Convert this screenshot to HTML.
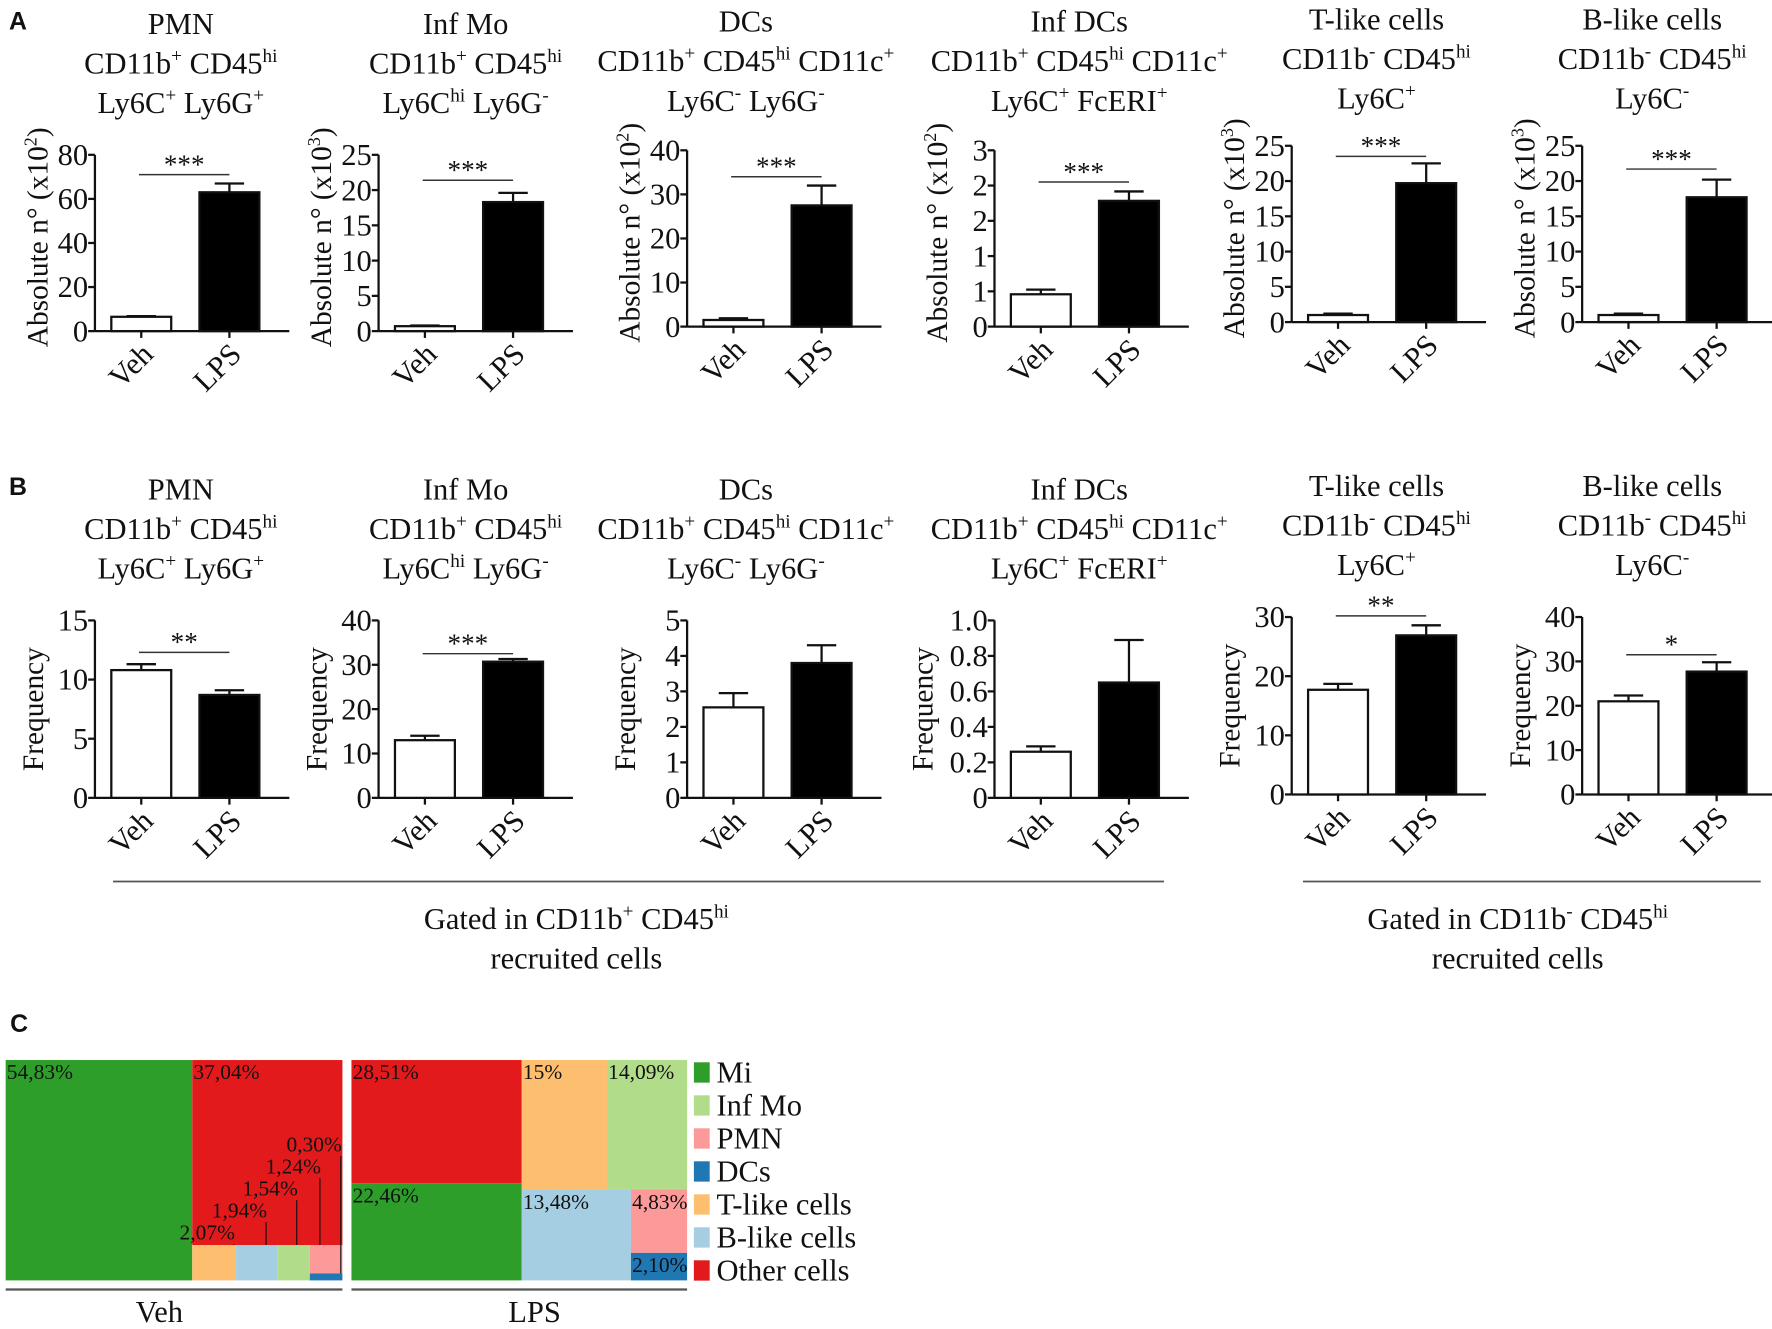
<!DOCTYPE html>
<html><head><meta charset="utf-8"><style>
html,body{margin:0;padding:0;background:#fff;}
svg{display:block;}
svg text{font-family:"Liberation Serif","Times New Roman",serif !important;fill:#111;}
svg text.lab{font-family:"Liberation Sans",Arial,sans-serif !important;font-weight:bold;}
</style></head><body>
<svg id="fig" width="1772" height="1329" viewBox="0 0 1568 1176" xmlns="http://www.w3.org/2000/svg" font-family="Liberation Serif, serif">
<text class="lab" x="8" y="26" font-size="22">A</text>
<text class="lab" x="8" y="438" font-size="22">B</text>
<text class="lab" x="9" y="913" font-size="22">C</text>
</svg>
<script>
// ---------- data ----------
const groups = ["Veh", "LPS"];
const titlesA = [
 ["PMN","CD11b^{+} CD45^{hi}","Ly6C^{+} Ly6G^{+}"],
 ["Inf Mo","CD11b^{+} CD45^{hi}","Ly6C^{hi} Ly6G^{-}"],
 ["DCs","CD11b^{+} CD45^{hi} CD11c^{+}","Ly6C^{-} Ly6G^{-}"],
 ["Inf DCs","CD11b^{+} CD45^{hi} CD11c^{+}","Ly6C^{+} FcERI^{+}"],
 ["T-like cells","CD11b^{-} CD45^{hi}","Ly6C^{+}"],
 ["B-like cells","CD11b^{-} CD45^{hi}","Ly6C^{-}"]
];
const yTitlesA = ["Absolute n° (x10^{2})","Absolute n° (x10^{3})","Absolute n° (x10^{2})","Absolute n° (x10^{2})","Absolute n° (x10^{3})","Absolute n° (x10^{3})"];
const meansA = [[6.5,63],[0.7,18.3],[1.5,27.5],[0.55,2.14],[1,19.7],[1,17.7]];
const errsA  = [[6.8,67],[0.8,19.6],[1.9,32],[0.63,2.3],[1.2,22.5],[1.2,20.2]];
const maxA   = [80,25,40,3,25,25];
const ticksA = [[0,20,40,60,80],[0,5,10,15,20,25],[0,10,20,30,40],[0,0.6,1.2,1.8,2.4,3],[0,5,10,15,20,25],[0,5,10,15,20,25]];
const tickLabelsA = [["0","20","40","60","80"],["0","5","10","15","20","25"],["0","10","20","30","40"],["0","1","1","2","2","3"],["0","5","10","15","20","25"],["0","5","10","15","20","25"]];
const sigA = [["***",71],["***",21.4],["***",34],["***",2.46],["***",23.5],["***",21.7]];

const meansB = [[10.8,8.7],[13,30.7],[2.55,3.8],[0.26,0.65],[17.7,26.9],[21,27.7]];
const errsB  = [[11.3,9.1],[14,31.3],[2.95,4.3],[0.29,0.89],[18.7,28.6],[22.3,29.8]];
const maxB   = [15,40,5,1,30,40];
const ticksB = [[0,5,10,15],[0,10,20,30,40],[0,1,2,3,4,5],[0,0.2,0.4,0.6,0.8,1],[0,10,20,30],[0,10,20,30,40]];
const tickLabelsB = [["0","5","10","15"],["0","10","20","30","40"],["0","1","2","3","4","5"],["0","0.2","0.4","0.6","0.8","1.0"],["0","10","20","30"],["0","10","20","30","40"]];
const sigB = [["**",12.3],["***",32.5],null,null,["**",30.2],["*",31.5]];

// treemap data
const cellTypes = ["Mi","Inf Mo","PMN","DCs","T-like cells","B-like cells","Other cells"];
const cellColors = ["#2e9e2b","#b1dd8b","#fb9a99","#1f78b4","#fdbf6f","#a6cee3","#e31a1c"];
const vehValues = [54.83,1.54,1.24,0.30,2.07,1.94,37.04];
const lpsValues = [22.46,14.09,4.83,2.10,15,13.48,28.51];
const vehLabels = ["54,83%","1,54%","1,24%","0,30%","2,07%","1,94%","37,04%"];
const lpsLabels = ["22,46%","14,09%","4,83%","2,10%","15%","13,48%","28,51%"];

// ---------- layout (pixels) ----------
const axX = [84,335,608,880,1143,1400];
const rowA = {top:[137,137,133,133,129,129], zero:[293,293,289,289,285,285]};
const rowB = {top:[549,549,549,549,546,546], zero:[706,706,706,706,703,703]};
const titleCX = [160,412,660,955,1218,1462];
const titleYA = [[30,65,100],[30,65,100],[28,63,98],[28,63,98],[26,61,96],[26,61,96]];
const titleYB = [[442,477,512],[442,477,512],[442,477,512],[442,477,512],[439,474,509],[439,474,509]];
const FONT = "Liberation Serif, serif";

const svg = document.getElementById('fig');
const NS = "http://www.w3.org/2000/svg";
function mk(tag, attrs, parent){const e=document.createElementNS(NS,tag);for(const k in attrs)e.setAttribute(k,attrs[k]);if(tag==='text')e.setAttribute('font-family',FONT);(parent||svg).appendChild(e);return e;}
function richText(el, str, size){
  const parts = str.split(/(\^\{[^}]*\})/);
  let up=false;
  parts.forEach(p=>{
    if(!p) return;
    const t=document.createElementNS(NS,'tspan');
    if(p.startsWith('^{')){t.textContent=p.slice(2,-1);t.setAttribute('font-size',Math.round(size*0.62));t.setAttribute('dy',-size*0.38);up=true;}
    else{t.textContent=p;if(up){t.setAttribute('dy',size*0.38);up=false;}}
    el.appendChild(t);
  });
}

function drawPanel(i,row,rowName,means,errs,max,ticks,tlabels,sig,ytitle,titleY){
  const g=mk('g',{});
  
  
  const x0=axX[i], yz=row.zero[i], yt=row.top[i];
  const y=v=>yz-(v/max)*(yz-yt);
  const off=[41,119], bw=53, axLen=172;
  titlesA[i].forEach((ln,k)=>{
    const t=mk('text',{x:titleCX[i],y:titleY[i][k],'font-size':27,'text-anchor':'middle'},g);
    
    
    richText(t,ln,27);
  });
  const ya=mk('line',{x1:x0,y1:yt,x2:x0,y2:yz,stroke:'#111','stroke-width':2},g);
  
  
  const xa=mk('line',{x1:x0,y1:yz,x2:x0+axLen,y2:yz,stroke:'#111','stroke-width':2},g);
  
  
  ticks.forEach((tv,k)=>{
    mk('line',{x1:x0-6,y1:y(tv),x2:x0,y2:y(tv),stroke:'#111','stroke-width':2},g);
    const t=mk('text',{x:x0-6,y:y(tv)+9,'font-size':27,'text-anchor':'end'},g);
    t.textContent=tlabels[k];
    
    
  });
  const cy=(yt+yz)/2+ (rowName==='a'?-5:0);
  const txo = rowName==='a' ? 42 : (tlabels[tlabels.length-1].length>2 ? 55 : 46);
  const yT=mk('text',{x:0,y:0,'font-size':26,'text-anchor':'middle',transform:`translate(${x0-txo},${cy}) rotate(-90)`},g);
  
  
  richText(yT,ytitle,26);
  groups.forEach((gn,j)=>{
    const cx=x0+off[j];
    mk('line',{x1:cx,y1:y(errs[j]),x2:cx,y2:y(means[j]),stroke:'#111','stroke-width':2},g);
    mk('line',{x1:cx-13,y1:y(errs[j]),x2:cx+13,y2:y(errs[j]),stroke:'#111','stroke-width':2},g);
    const b=mk('rect',{x:cx-bw/2,y:y(means[j]),width:bw,height:yz-y(means[j]),fill:j?'#000':'#fff',stroke:'#111','stroke-width':2},g);
    
    
    mk('line',{x1:cx,y1:yz,x2:cx,y2:yz+6,stroke:'#111','stroke-width':2},g);
    const t=mk('text',{x:0,y:0,'font-size':27,'text-anchor':'end',transform:`translate(${cx+12},${yz+22}) rotate(-45)`},g);
    t.textContent=gn;
    
    
  });
  if(sig){
    const sy=y(sig[1]);
    const l=mk('line',{x1:x0+39,y1:sy,x2:x0+119,y2:sy,stroke:'#333','stroke-width':1.3},g);
    
    
    const t=mk('text',{x:x0+79,y:sy-1,'font-size':24,'text-anchor':'middle'},g);
    t.textContent=sig[0];
    
    
  }
}
for(let i=0;i<6;i++){
  drawPanel(i,rowA,'a',meansA[i],errsA[i],maxA[i],ticksA[i],tickLabelsA[i],sigA[i],yTitlesA[i],titleYA);
  drawPanel(i,rowB,'b',meansB[i],errsB[i],maxB[i],ticksB[i],tickLabelsB[i],sigB[i],"Frequency",titleYB);
}
function gate(x1,x2,cx,line1){
  const l=mk('line',{x1:x1,y1:780,x2:x2,y2:780,stroke:'#555','stroke-width':1.5});
  
  
  const t=mk('text',{x:cx,y:822,'font-size':27,'text-anchor':'middle'});
  
  
  richText(t,line1,27);
  const t2=mk('text',{x:cx,y:857,'font-size':27,'text-anchor':'middle'});
  t2.textContent='recruited cells';
  
  
}
gate(100,1030,510,"Gated in CD11b^{+} CD45^{hi}");
gate(1153,1558,1343,"Gated in CD11b^{-} CD45^{hi}");

// ---------- treemaps ----------
const vehTree = {d:'h',c:[0,{d:'v',c:[6,{d:'h',c:[4,5,1,{d:'v',c:[2,3]}]}]}]};
const lpsTree = {d:'h',c:[{d:'v',c:[6,0]},{d:'v',c:[{d:'h',c:[4,1]},{d:'h',c:[5,{d:'v',c:[2,3]}]}]}]};
function sumNode(n,vals){return typeof n==='number'?vals[n]:n.c.reduce((s,k)=>s+sumNode(k,vals),0);}
function layout(n,vals,x,y,w,h,out){
  if(typeof n==='number'){out.push({i:n,x,y,w,h});return;}
  const tot=sumNode(n,vals);let p=0;
  n.c.forEach(k=>{const f=sumNode(k,vals)/tot;
    if(n.d==='h'){layout(k,vals,x+p,y,w*f,h,out);p+=w*f;}
    else{layout(k,vals,x,y+p,w,h*f,out);p+=h*f;}});
}
const calloutFrac=[0.95,0.73,0.6,0.31,0.95];
function treemap(tree,vals,labels,x,y,w,h,name,calloutIdx){
  const g=mk('g',{});
  
  
  const out=[];layout(tree,vals,x,y,w,h,out);
  out.forEach(r=>{
    const rc=mk('rect',{x:r.x,y:r.y,width:r.w,height:r.h,fill:cellColors[r.i]},g);
    
    
  });
  out.forEach(r=>{
    if(calloutIdx && calloutIdx.includes(r.i)) return;
    const t=mk('text',{x:r.x+1,y:r.y+17,'font-size':19},g);
    t.textContent=labels[r.i];
    
    
  });
  if(calloutIdx){
    calloutIdx.forEach((ci,k)=>{
      const r=out.find(o=>o.i===ci);
      const lx=r.x+r.w*calloutFrac[k], ly=y+h-36-k*19.5;
      const t=mk('text',{x:lx+1,y:ly,'font-size':19,'text-anchor':'end'},g);
      t.textContent=labels[ci];
      
      
      mk('line',{x1:lx,y1:ly+4,x2:lx,y2:r.y+(ci===3?0:0),stroke:'#111','stroke-width':1},g);
    });
  }
  const ul=mk('line',{x1:x,y1:1141,x2:x+w,y2:1141,stroke:'#555','stroke-width':2},g);
  
  
}
treemap(vehTree,vehValues,vehLabels,5,938,298,195,'treemap-veh',[4,5,1,2,3]);
treemap(lpsTree,lpsValues,lpsLabels,311,938,297,195,'treemap-lps',null);
[['Veh',141],['LPS',473]].forEach(([s,cx])=>{
  const t=mk('text',{x:cx,y:1170,'font-size':27,'text-anchor':'middle'});
  t.textContent=s;
  
  
});
const legendOrder=[0,1,2,3,4,5,6];
legendOrder.forEach((ci,k)=>{
  const yy=949+k*29.2;
  const g=mk('g',{});
  
  
  mk('rect',{x:614,y:yy-9,width:14,height:18,fill:cellColors[ci]},g);
  const t=mk('text',{x:634,y:yy+9,'font-size':27},g);
  t.textContent=cellTypes[ci];
});
</script>
</body></html>
